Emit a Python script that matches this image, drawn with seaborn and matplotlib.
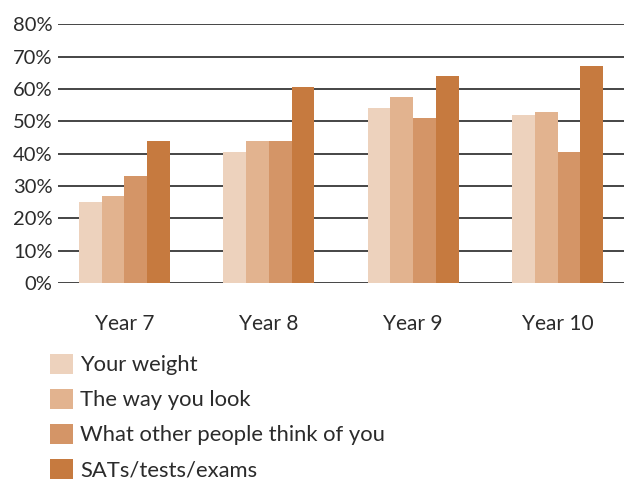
import matplotlib
matplotlib.use("Agg")
import matplotlib.pyplot as plt
import seaborn as sns
import pandas as pd
from matplotlib.patches import Patch

years = ["Year 7", "Year 8", "Year 9", "Year 10"]
series = ["Your weight", "The way you look", "What other people think of you", "SATs/tests/exams"]
your_weight = [25, 40.5, 54, 52]
way_you_look = [27, 44, 57.5, 53]
other_people = [33, 44, 51, 40.5]
sats_tests = [44, 60.5, 64, 67]
colors = ["#EDD2BD", "#E2B38F", "#D49567", "#C67A3F"]
yticks = [0, 10, 20, 30, 40, 50, 60, 70, 80]

rows = []
for s, vals in zip(series, [your_weight, way_you_look, other_people, sats_tests]):
    for y, v in zip(years, vals):
        rows.append({"Year": y, "Series": s, "Value": v})
df = pd.DataFrame(rows)

sns.set_style("white")
plt.rcParams["font.family"] = ["Lato", "DejaVu Sans"]
text_color = "#2B2B2B"

fig = plt.figure(figsize=(6.24, 4.83), dpi=100)
ax = fig.add_axes([0.093, 0.414, 0.907, 0.536])
sns.barplot(data=df, x="Year", y="Value", hue="Series", hue_order=series,
            order=years, palette=colors, width=0.63, saturation=1,
            ax=ax, legend=False, errorbar=None)
for p in ax.patches:
    p.set_edgecolor("none")

ax.set_ylim(0, 80)
ax.set_xlim(-0.46, 3.46)
ax.set_yticks(yticks)
ax.set_yticklabels([f"{t}%" for t in yticks])
ax.yaxis.grid(True, color="#262626", linewidth=1.2)
ax.set_axisbelow(True)
for sp in ax.spines.values():
    sp.set_visible(False)
ax.tick_params(axis="y", length=0, labelsize=14.5, colors=text_color, pad=4)
ax.tick_params(axis="x", length=0, labelsize=15, colors=text_color, pad=22)
ax.set_xlabel("")
ax.set_ylabel("")

handles = [Patch(facecolor=c, edgecolor="none") for c in colors]
fig.legend(handles, series, loc="upper left", bbox_to_anchor=(0.08, 0.268),
           frameon=False, fontsize=15.8, handlelength=1.05, handleheight=1.08,
           labelspacing=0.6, handletextpad=0.33, borderpad=0, borderaxespad=0,
           labelcolor=text_color)

fig.savefig("out.png", dpi=100)
